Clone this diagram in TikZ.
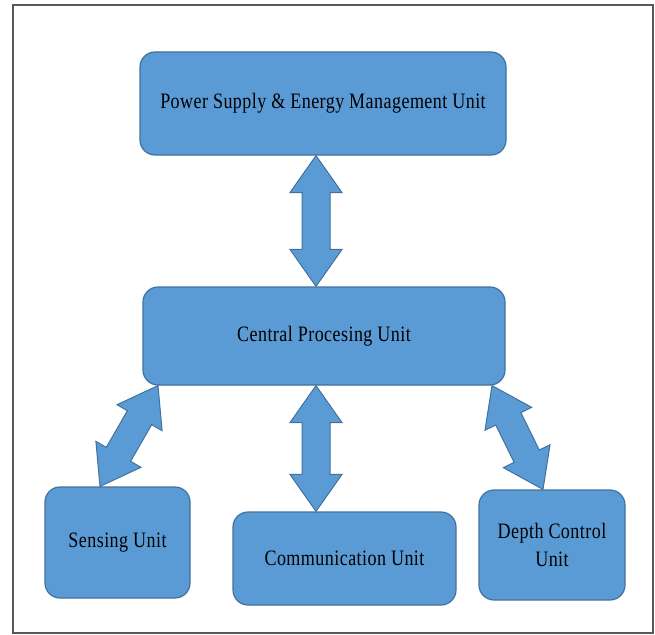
\documentclass[tikz,border=0pt]{standalone}
\usepackage{fontspec}
\setmainfont{Liberation Serif}[FakeStretch=0.82,LetterSpace=2]
\usetikzlibrary{calc}
\definecolor{boxfill}{HTML}{5B9BD5}
\definecolor{boxline}{HTML}{41719C}
\tikzset{
  unitbox/.style={draw=boxline, fill=boxfill, line width=1.2pt, rounded corners=15pt,
    inner sep=0pt, align=center, font=\fontsize{22}{28}\selectfont},
  arrowshape/.style={draw=boxline, fill=boxfill, line width=1pt, line join=miter}
}
% double arrow polygon between two named coordinates: #1 tip, #2 tip
\newcommand\dblarrowdraw[2]{%
  \draw[arrowshape]
    (#1)
    -- ($(#1)!37pt!(#2)!26pt!90:(#2)$)
    -- ($(#1)!37pt!(#2)!14pt!90:(#2)$)
    -- ($(#2)!37pt!(#1)!14pt!-90:(#1)$)
    -- ($(#2)!37pt!(#1)!26pt!-90:(#1)$)
    -- (#2)
    -- ($(#2)!37pt!(#1)!26pt!90:(#1)$)
    -- ($(#2)!37pt!(#1)!14pt!90:(#1)$)
    -- ($(#1)!37pt!(#2)!14pt!-90:(#2)$)
    -- ($(#1)!37pt!(#2)!26pt!-90:(#2)$)
    -- cycle;}
\begin{document}
\begin{tikzpicture}[x=1pt,y=-1pt]
\useasboundingbox (0,0) rectangle (655,634);
\draw[line width=2pt, draw=gray!70!black] (13,5) rectangle (653,633);
% boxes
\node[unitbox, minimum width=366pt, minimum height=103pt] (power) at (323,103.5) {Power Supply \& Energy Management Unit};
\node[unitbox, minimum width=362pt, minimum height=98pt] (cpu) at (324,336) {Central Procesing Unit};
\node[unitbox, minimum width=145pt, minimum height=111pt] (sense) at (117.5,542.5) {Sensing Unit};
\node[unitbox, minimum width=223pt, minimum height=93pt] (comm) at (344.5,558.5) {Communication Unit};
\node[unitbox, minimum width=146pt, minimum height=110pt] (depth) at (552,545) {Depth Control\\Unit};
% arrow end points
\coordinate (a1) at (power.south -| 316,0);
\coordinate (a2) at (cpu.north -| 316,0);
\coordinate (b1) at (cpu.south -| 316,0);
\coordinate (b2) at (comm.north -| 316,0);
\coordinate (c1) at (cpu.south -| 158,0);
\coordinate (c2) at (sense.north -| 100,0);
\coordinate (d1) at (cpu.south -| 492,0);
\coordinate (d2) at (depth.north -| 543,0);
\dblarrowdraw{a1}{a2}
\dblarrowdraw{b1}{b2}
\dblarrowdraw{c1}{c2}
\dblarrowdraw{d1}{d2}
\end{tikzpicture}
\end{document}
